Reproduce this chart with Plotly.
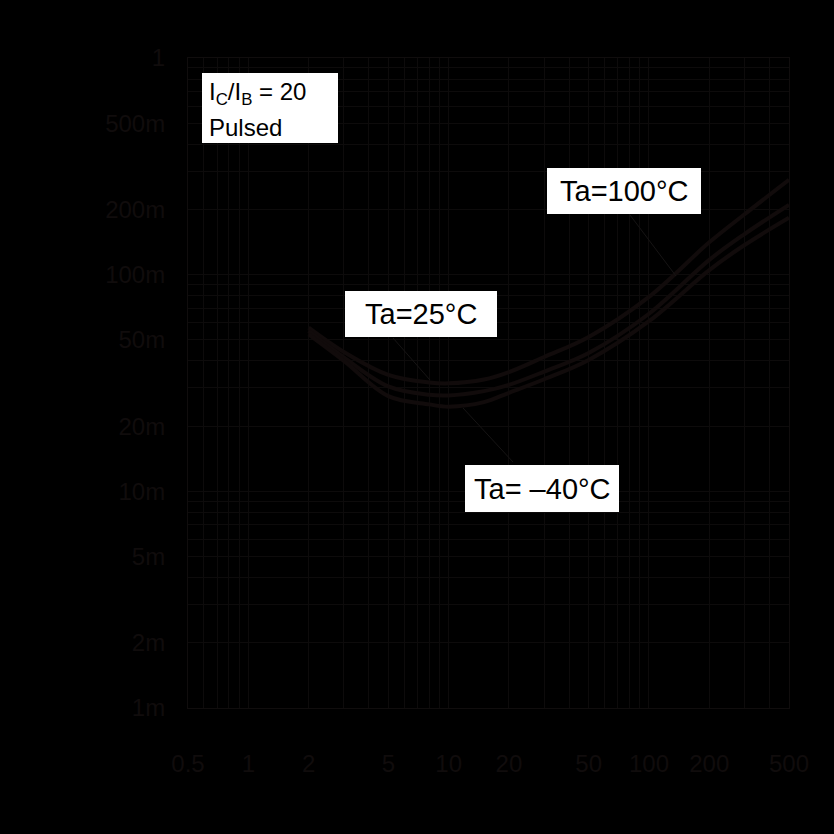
import math
import plotly.graph_objects as go

# ---- data (collector current in mA, saturation voltage in V) ----
ic_ma = [2, 3, 5, 8, 10, 15, 20, 30, 50, 100, 200, 300, 500]
vce_100 = [0.057, 0.044, 0.0345, 0.0318, 0.0315, 0.0328, 0.0355, 0.0417, 0.0516, 0.079, 0.141, 0.19, 0.274]
vce_25 = [0.055, 0.0415, 0.0305, 0.0279, 0.0277, 0.029, 0.031, 0.0357, 0.0435, 0.066, 0.117, 0.154, 0.210]
vce_m40 = [0.053, 0.040, 0.0275, 0.0252, 0.0246, 0.0258, 0.0285, 0.0329, 0.0404, 0.061, 0.105, 0.137, 0.183]

x_ticks = [0.5, 1, 2, 5, 10, 20, 50, 100, 200, 500]
x_labels = ["0.5", "1", "2", "5", "10", "20", "50", "100", "200", "500"]
y_ticks = [0.001, 0.002, 0.005, 0.01, 0.02, 0.05, 0.1, 0.2, 0.5, 1]
y_labels = ["1m", "2m", "5m", "10m", "20m", "50m", "100m", "200m", "500m", "1"]

x_minor = [k * 10 ** e for e in (-1, 0, 1, 2) for k in range(1, 10) if 0.5 <= k * 10 ** e <= 500]
y_minor = [k * 10 ** e for e in (-3, -2, -1) for k in range(1, 10)]

TEXT = "rgb(16,12,12)"
GRID = "rgb(13,11,11)"
CURVE = "rgb(17,11,11)"
AXIS = "rgb(16,13,13)"
FONT = "Liberation Sans, Arial, sans-serif"

fig = go.Figure()
for name, vals in [("Ta=100°C", vce_100), ("Ta=25°C", vce_25), ("Ta=-40°C", vce_m40)]:
    fig.add_trace(go.Scatter(x=ic_ma, y=vals, mode="lines", name=name,
                             line=dict(color=CURVE, width=4, shape="spline", smoothing=1.0)))

fig.update_layout(
    width=834, height=834,
    margin=dict(l=188, r=45, t=58, b=126),
    paper_bgcolor="black", plot_bgcolor="black",
    showlegend=False,
    font=dict(family=FONT, size=24, color=TEXT),
)
fig.update_xaxes(
    type="log", range=[math.log10(0.5), math.log10(500)],
    tickmode="array", tickvals=x_ticks, ticktext=x_labels,
    showgrid=True, gridcolor=GRID, gridwidth=1,
    minor=dict(tickmode="array", tickvals=x_minor, showgrid=True, gridcolor=GRID, gridwidth=1),
    showline=True, linecolor=AXIS, linewidth=1, mirror=True,
    ticks="", ticklabelstandoff=34, zeroline=False,
    tickfont=dict(family=FONT, size=24, color=TEXT),
)
fig.update_yaxes(
    type="log", range=[-3, 0],
    tickmode="array", tickvals=y_ticks, ticktext=y_labels,
    showgrid=True, gridcolor=GRID, gridwidth=1,
    minor=dict(tickmode="array", tickvals=y_minor, showgrid=True, gridcolor=GRID, gridwidth=1),
    showline=True, linecolor=AXIS, linewidth=1, mirror=True,
    ticks="", ticklabelstandoff=17, zeroline=False,
    tickfont=dict(family=FONT, size=24, color=TEXT),
)

# plot-area pixel helpers for label boxes (layout only)
L, R, T, B = 188, 789, 58, 708
def px(xp):
    return (xp - L) / (R - L)
def py(yp):
    return (B - yp) / (B - T)

LEAD = "rgb(22,20,20)"
shapes = []
# leader lines
for (x0, y0, x1, y1) in [(630, 215, 676, 276), (393, 338, 430, 380), (463, 408, 513, 462)]:
    shapes.append(dict(type="line", xref="paper", yref="paper", x0=px(x0), y0=py(y0), x1=px(x1), y1=py(y1),
                       line=dict(color=LEAD, width=1), layer="above"))
# white label boxes
boxes = [(202, 73, 338, 143), (547, 168, 701, 214), (345, 291, 497, 337), (465, 465, 619, 512)]
for (x0, y0, x1, y1) in boxes:
    shapes.append(dict(type="rect", xref="paper", yref="paper", x0=px(x0), y0=py(y0), x1=px(x1), y1=py(y1),
                       fillcolor="white", line=dict(width=0), layer="above"))
fig.update_layout(shapes=shapes)

ann = []
ann.append(dict(xref="paper", yref="paper", x=px(207), y=py(94), xanchor="left", yanchor="middle",
                text="I<sub>C</sub>/I<sub>B</sub> = 20", showarrow=False,
                font=dict(family=FONT, size=24, color="black")))
ann.append(dict(xref="paper", yref="paper", x=px(207), y=py(127), xanchor="left", yanchor="middle",
                text="Pulsed", showarrow=False, font=dict(family=FONT, size=24, color="black")))
labels = ["Ta=100°C", "Ta=25°C", "Ta= \u201340°C"]
for txt, (x0, y0, x1, y1) in zip(labels, boxes[1:]):
    ann.append(dict(xref="paper", yref="paper", x=px((x0 + x1) / 2), y=py((y0 + y1) / 2),
                    xanchor="center", yanchor="middle", text=txt, showarrow=False,
                    font=dict(family=FONT, size=29, color="black")))
fig.update_layout(annotations=ann)

fig.write_html("out.html", config={"displayModeBar": False},
               post_script="document.body.style.margin='0';document.body.style.background='black';")
